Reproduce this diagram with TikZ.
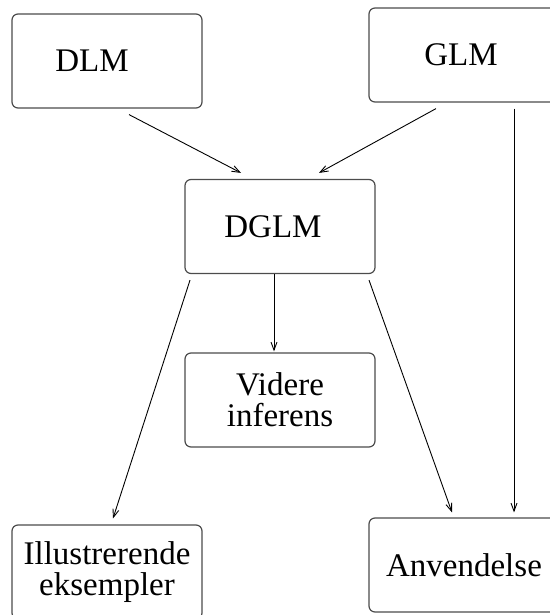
\documentclass[tikz,border=0pt]{standalone}
\usepackage{fontspec}
\setmainfont{Liberation Serif}
\usetikzlibrary{calc,arrows.meta}

\begin{document}
\begin{tikzpicture}[
    x=0.5pt, y=-0.5pt, % pixel grid, y downwards
    font=\fontsize{16.5pt}{15.5pt}\selectfont,
    >={Straight Barb[length=4pt,width=3pt]},
    modelbox/.style = {draw=black!70, line width=0.6pt, rounded corners=3pt,
                       minimum width=95pt, minimum height=47pt, inner sep=0pt, align=center},
    flow/.style = {->, draw=black, line width=0.45pt}
    ]
    \useasboundingbox (0,0) rectangle (550,615);
    \clip (0,0) rectangle (550,615);
    \node[modelbox] (dlm) at (107,61) {DLM\hspace{15pt}};
    \node[modelbox, minimum width=110pt] (glm) at (479,55) {GLM\hspace{18pt}};
    \node[modelbox] (dglm) at (280,226.5) {DGLM\hspace{7pt}};
    \node[modelbox] (videre) at (280,400) {Videre\\inferens};
    \node[modelbox] (illu) at (107,572) {Illustrerende\\eksempler};
    \node[modelbox, minimum width=110pt] (anv) at (479,565) {Anvendelse\hspace{15pt}};

    \draw[flow] ($(dlm.south)+(22,6)$) -- ($(dglm.north)+(-39,-6)$);
    \draw[flow] ($(glm.south)+(-43,6)$) -- ($(dglm.north)+(39,-6)$);
    \draw[flow] ($(glm.south)+(35,6)$) -- ($(anv.north)+(35,-5)$);
    \draw[flow] ($(dglm.south)+(-6,0)$) -- ($(videre.north)+(-6,-1)$);
    \draw[flow] ($(dglm.south)+(-90,6)$) -- ($(illu.north)+(6,-6)$);
    \draw[flow] ($(dglm.south)+(89,6)$) -- ($(anv.north)+(-27,-5)$);
\end{tikzpicture}
\end{document}
